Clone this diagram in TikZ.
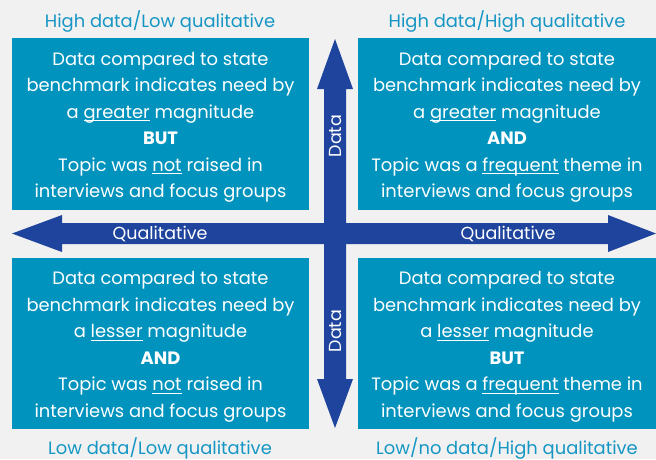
\documentclass[tikz,border=0pt]{standalone}
\usepackage{fontspec}
\setmainfont{Poppins}
\definecolor{boxblue}{RGB}{0,147,189}
\definecolor{axisblue}{RGB}{30,68,158}
\definecolor{capblue}{RGB}{22,150,196}
\definecolor{bggray}{RGB}{241,241,241}
\newcommand{\uw}[1]{\sbox0{#1}\rlap{\rule[-2.5pt]{\wd0}{0.6pt}}\usebox0}
\begin{document}
\begin{tikzpicture}[x=1pt,y=-1pt,
  quad/.style={fill=boxblue, text=white, align=center, inner sep=0pt,
    font=\fontsize{17.9}{26.5}\selectfont},
  quadtitle/.style={text=capblue, font=\fontsize{17.9}{20}\selectfont},
  axlab/.style={text=white, font=\fontsize{17.5}{20}\selectfont}]
\fill[bggray] (0,0) rectangle (656,459);
\useasboundingbox (0,0) rectangle (656,459);
% quadrants
\node[quad, minimum width=297pt, minimum height=172pt] (hdlq) at (160.5,124) {\rule{0pt}{20pt}Data compared to state\\benchmark indicates need by\\a \uw{greater} magnitude\\\textbf{BUT}\\Topic was \uw{not} raised in\\interviews and focus groups};
\node[quad, minimum width=298pt, minimum height=172pt] (hdhq) at (507,124) {\rule{0pt}{20pt}Data compared to state\\benchmark indicates need by\\a \uw{greater} magnitude\\\textbf{AND}\\Topic was a \uw{frequent} theme in\\interviews and focus groups};
\node[quad, minimum width=297pt, minimum height=171pt] (ldlq) at (160.5,343.5) {\rule{0pt}{20pt}Data compared to state\\benchmark indicates need by\\a \uw{lesser} magnitude\\\textbf{AND}\\Topic was \uw{not} raised in\\interviews and focus groups};
\node[quad, minimum width=298pt, minimum height=171pt] (ldhq) at (507,343.5) {\rule{0pt}{20pt}Data compared to state\\benchmark indicates need by\\a \uw{lesser} magnitude\\\textbf{BUT}\\Topic was a \uw{frequent} theme in\\interviews and focus groups};
% axes
\fill[axisblue] (12,233.5) -- (62,215) -- (62,223) -- (608,223) -- (608,215) -- (656,233.5)
  -- (608,252) -- (608,244) -- (62,244) -- (62,252) -- cycle;
\fill[axisblue] (335,39) -- (353,89) -- (346,89) -- (346,379) -- (353,379) -- (335,428)
  -- (317,379) -- (324,379) -- (324,89) -- (317,89) -- cycle;
\node[axlab] (qleft) at (160,234) {Qualitative};
\node[axlab] (qright) at (508,234) {Qualitative};
\node[axlab, rotate=90] (dtop) at (335,136) {Data};
\node[axlab, rotate=90] (dbot) at (335,331) {Data};
% captions
\node[quadtitle] (thl) at (160,21) {High data/Low qualitative};
\node[quadtitle] (thh) at (507,21) {High data/High qualitative};
\node[quadtitle] (tll) at (160,448) {Low data/Low qualitative};
\node[quadtitle] (tlh) at (507,448) {Low/no data/High qualitative};
\end{tikzpicture}
\end{document}
